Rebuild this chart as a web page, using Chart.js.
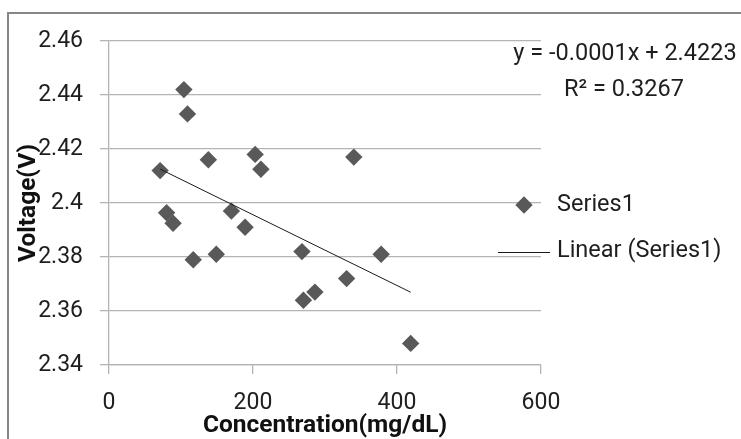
<!DOCTYPE html>
<html>
<head>
<meta charset="UTF-8" />
<title>Voltage vs Concentration</title>
<style>
  body { margin: 0; background: #fff; overflow: hidden; }
  #frame { position: absolute; left: 7px; top: 12px; width: 800px; height: 500px; border-left: 2px solid #878787; border-top: 2px solid #878787; }
  #wrap { position: absolute; left: 0; top: 0; width: 741px; height: 439px; }
</style>
</head>
<body>
<div id="frame"></div>
<div id="wrap"><canvas id="chart"></canvas></div>
<script src="https://cdn.jsdelivr.net/npm/chart.js"></script>
<script>
  // values
  const concentration = [71, 80, 89, 104, 109, 117, 138, 149, 170, 189, 203, 211, 268, 270, 286, 330, 340, 378, 419];
  const voltage = [2.412, 2.3964, 2.3925, 2.442, 2.433, 2.379, 2.416, 2.381, 2.397, 2.391, 2.418, 2.4125, 2.382, 2.364, 2.367, 2.372, 2.417, 2.381, 2.348];
  const xTicks = [0, 200, 400, 600];
  const yTicks = [2.34, 2.36, 2.38, 2.4, 2.42, 2.44, 2.46];
  const seriesLabel = 'Series1';
  const trendLabel = 'Linear (Series1)';
  const equationText = 'y = -0.0001x + 2.4223';
  const r2Text = 'R\u00B2 = 0.3267';

  const FONT = 'Roboto, "Open Sans", Arial, sans-serif';
  const GRID = '#b4b4b4';
  const TEXT = '#1e1e1e';

  // least squares trendline, drawn from min x to max x
  const n = concentration.length;
  const mx = concentration.reduce((a, v) => a + v, 0) / n;
  const my = voltage.reduce((a, v) => a + v, 0) / n;
  let sxy = 0, sxx = 0;
  concentration.forEach((x, i) => { sxy += (x - mx) * (voltage[i] - my); sxx += (x - mx) * (x - mx); });
  const slope = sxy / sxx;
  const intercept = my - slope * mx;
  const xMin = Math.min(...concentration), xMax = Math.max(...concentration);
  const trend = [{ x: xMin, y: intercept + slope * xMin }, { x: xMax, y: intercept + slope * xMax }];

  const points = concentration.map((x, i) => ({ x: x, y: voltage[i] }));

  // legend + equation drawn the way Excel places them
  const sideText = {
    id: 'sideText',
    afterDraw(chart) {
      const ctx = chart.ctx;
      ctx.save();
      ctx.fillStyle = TEXT;
      ctx.font = '23.5px ' + FONT;
      ctx.textBaseline = 'middle';
      ctx.textAlign = 'center';
      ctx.fillText(equationText, 625, 54);
      ctx.fillText(r2Text, 624, 90);

      ctx.textAlign = 'left';
      // marker entry
      const r = 8.7;
      ctx.fillStyle = '#595959';
      ctx.beginPath();
      ctx.moveTo(524 - r, 205); ctx.lineTo(524, 205 - r); ctx.lineTo(524 + r, 205); ctx.lineTo(524, 205 + r);
      ctx.closePath(); ctx.fill();
      ctx.fillStyle = TEXT;
      ctx.fillText(seriesLabel, 557, 205);
      // line entry
      ctx.strokeStyle = '#1a1a1a';
      ctx.lineWidth = 1;
      ctx.beginPath(); ctx.moveTo(498, 252.5); ctx.lineTo(550, 252.5); ctx.stroke();
      ctx.fillText(trendLabel, 557, 251);
      ctx.restore();
    }
  };

  new Chart(document.getElementById('chart'), {
    type: 'scatter',
    data: {
      datasets: [
        {
          label: trendLabel,
          type: 'line',
          data: trend,
          borderColor: '#1a1a1a',
          borderWidth: 1,
          pointRadius: 0,
          fill: false,
          order: 0
        },
        {
          label: seriesLabel,
          data: points,
          pointStyle: 'rectRot',
          pointRadius: 8.7,
          pointHoverRadius: 8.7,
          backgroundColor: '#595959',
          borderColor: '#595959',
          borderWidth: 0,
          order: 1
        }
      ]
    },
    options: {
      responsive: true,
      maintainAspectRatio: false,
      animation: false,
      events: [],
      layout: { padding: { top: 41, right: 200, bottom: 0, left: 0 } },
      plugins: { legend: { display: false }, tooltip: { enabled: false } },
      scales: {
        x: {
          type: 'linear',
          min: 0, max: 600,
          afterFit: s => { s.height = 74; },
          afterBuildTicks: s => { s.ticks = xTicks.map(v => ({ value: v })); },
          grid: { drawOnChartArea: false, drawTicks: true, tickLength: 9, color: GRID, lineWidth: 1.3 },
          border: { display: true, color: GRID, width: 1.3 },
          ticks: { padding: 15, color: TEXT, font: { family: FONT, size: 23 }, callback: v => String(v) },
          title: { display: true, text: 'Concentration(mg/dL)', color: '#111', font: { family: FONT, size: 24.5, weight: 'bold', lineHeight: 1.1 }, padding: { top: 0, bottom: 0 } }
        },
        y: {
          min: 2.34, max: 2.46,
          afterFit: s => { s.width = 109; },
          afterBuildTicks: s => { s.ticks = yTicks.map(v => ({ value: v })); },
          grid: { drawTicks: true, tickLength: 9, color: GRID, lineWidth: 1.3 },
          border: { display: true, color: GRID, width: 1.3 },
          ticks: { padding: 17, color: TEXT, font: { family: FONT, size: 23 }, callback: v => String(v) },
          title: { display: true, text: 'Voltage(V)', color: '#111', font: { family: FONT, size: 24.5, weight: 'bold', lineHeight: 1.1 }, padding: { top: 15.5, bottom: 0 } }
        }
      }
    },
    plugins: [sideText]
  });
</script>
</body>
</html>
